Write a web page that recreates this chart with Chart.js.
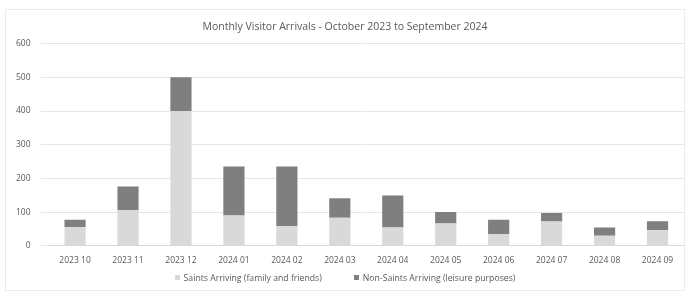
<!DOCTYPE html>
<html>
<head>
<meta charset="utf-8">
<script src="https://cdn.jsdelivr.net/npm/chart.js@4"></script>
<style>
  html, body { margin: 0; padding: 0; background: #fff; }
  #wrap { position: absolute; left: 5px; top: 9px; width: 680px; height: 282px; border: 1px solid #ececec; box-sizing: border-box; }
  #leyenda { position: absolute; left: 0; right: 0; top: 262px; height: 12px; display: flex; justify-content: center; gap: 32px;
             font-family: 'Open Sans', sans-serif; font-size: 8.7px; line-height: 12px; color: #595959; }
  #leyenda span.caja { display: inline-block; width: 5px; height: 5px; margin-right: 4px; vertical-align: 1px; }
</style>
</head>
<body>
<div id="wrap"><canvas id="myChart"></canvas><div id="leyenda"></div></div>
<script>
// datos
const meses = ["2023 10", "2023 11", "2023 12", "2024 01", "2024 02", "2024 03",
               "2024 04", "2024 05", "2024 06", "2024 07", "2024 08", "2024 09"];
const santos = [56, 106, 400, 90, 58, 83, 54, 66, 35, 72, 30, 46];
const noSantos = [21, 70, 100, 145, 177, 58, 95, 34, 42, 25, 24, 27];
const ticksY = [0, 100, 200, 300, 400, 500, 600];

const fuente = "'Open Sans', sans-serif";
const gris = "#595959";

const ctx = document.getElementById("myChart").getContext("2d");
const myChart = new Chart(ctx, {
    type: "bar",
    data: {
        labels: meses,
        datasets: [
            {
                label: "Saints Arriving (family and friends)",
                data: santos,
                backgroundColor: "#d9d9d9",
                barPercentage: 0.4,
                categoryPercentage: 1
            },
            {
                label: "Non-Saints Arriving (leisure purposes)",
                data: noSantos,
                backgroundColor: "#7f7f7f",
                barPercentage: 0.4,
                categoryPercentage: 1
            }
        ]
    },
    options: {
        responsive: true,
        maintainAspectRatio: false,
        animation: false,
        layout: { padding: { left: 0, right: 0, top: 4, bottom: 22 } },
        plugins: {
            title: {
                display: true,
                text: "Monthly Visitor Arrivals - October 2023 to September 2024",
                color: gris,
                font: { family: fuente, size: 10.5, weight: "normal" },
                padding: { top: 7, bottom: 10 }
            },
            legend: { display: false },
            tooltip: { enabled: false }
        },
        scales: {
            x: {
                stacked: true,
                grid: { display: false },
                border: { color: "#d9d9d9" },
                ticks: { color: gris, font: { family: fuente, size: 8.5 }, maxRotation: 0, padding: 2 }
            },
            y: {
                stacked: true,
                min: 0,
                max: 600,
                afterBuildTicks: axis => { axis.ticks = ticksY.map(v => ({ value: v })); },
                grid: { color: "#e6e6e6" },
                border: { display: false },
                ticks: { color: gris, font: { family: fuente, size: 8.5 }, padding: 10 }
            }
        }
    }
});

// leyenda en html (mas espacio entre elementos)
const leyenda = document.getElementById("leyenda");
myChart.data.datasets.forEach(ds => {
    const item = document.createElement("div");
    const caja = document.createElement("span");
    caja.className = "caja";
    caja.style.background = ds.backgroundColor;
    item.appendChild(caja);
    item.appendChild(document.createTextNode(ds.label));
    leyenda.appendChild(item);
});
</script>
</body>
</html>
